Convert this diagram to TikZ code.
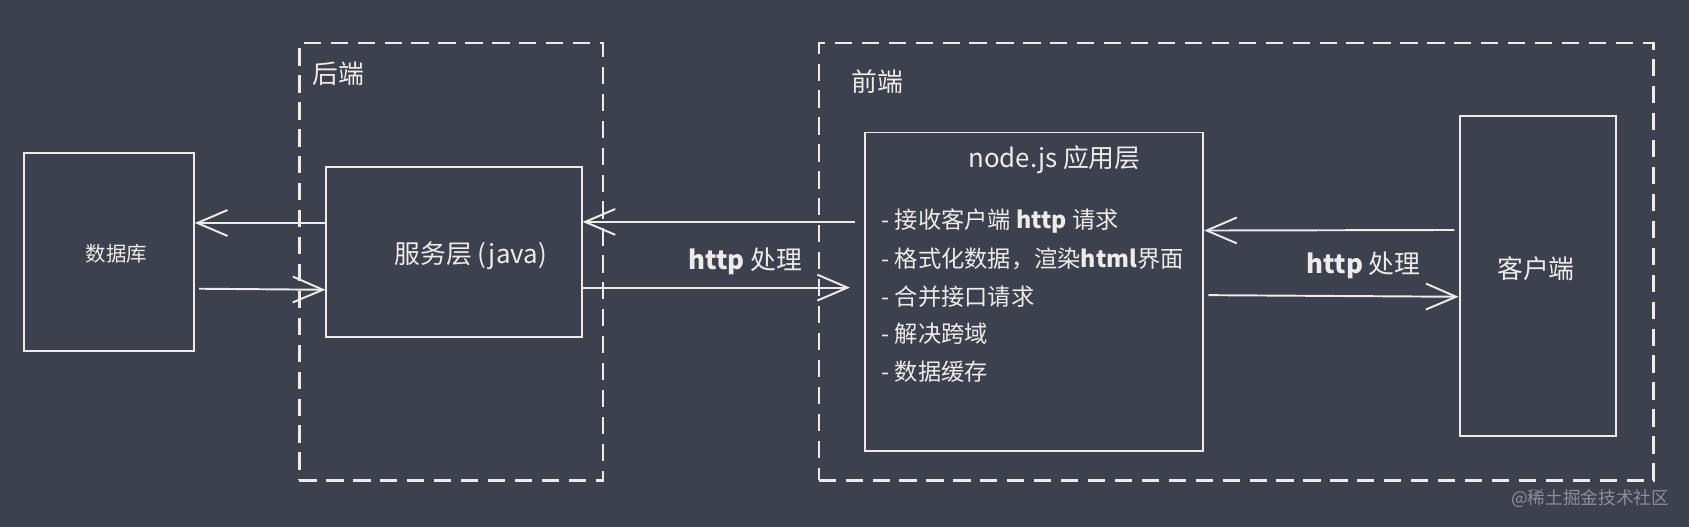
\documentclass[tikz,border=0pt]{standalone}
\usepackage{fontspec}
\newfontfamily\cjkfont{Noto Sans CJK SC}
\usetikzlibrary{arrows.meta}
\definecolor{bgcol}{HTML}{3D404D}
\definecolor{ink}{HTML}{ECECEC}
\definecolor{wmgray}{HTML}{8C8E98}
\tikzset{
  box/.style={draw=ink,line width=0.9pt,inner sep=0pt},
  zone/.style={draw=ink,line width=1pt,dash pattern=on 8pt off 4.5pt,inner sep=0pt},
  txt/.style={text=ink,inner sep=0pt,font=\cjkfont\fontsize{12pt}{14pt}\selectfont},
  smalltxt/.style={text=ink,inner sep=0pt,font=\cjkfont\fontsize{9.5pt}{11pt}\selectfont},
  itemtxt/.style={text=ink,inner sep=0pt,anchor=west,font=\cjkfont\fontsize{10.8pt}{13pt}\selectfont},
  arr/.style={draw=ink,line width=0.9pt,-{Straight Barb[length=14pt,width=12pt]}}
}

\begin{document}
\begin{tikzpicture}[x=0.5pt,y=-0.5pt]
  \fill[bgcol] (0,0) rectangle (1568,489);
  \useasboundingbox (0,0) rectangle (1568,489);

  % dashed zones
  \node[zone,minimum width=141pt,minimum height=203pt] (back) at (419,243) {};
  \node[zone,minimum width=387.5pt,minimum height=203pt] (front) at (1147.5,243) {};
  \node[txt,anchor=west] (backlbl) at (290,68) {后端};
  \node[txt,anchor=west] (frontlbl) at (790,76) {前端};

  % boxes
  \node[box,minimum width=79pt,minimum height=92pt] (db) at (101,234) {};
  \node[smalltxt] (dbtxt) at (108,236) {数据库};
  \node[box,minimum width=118.5pt,minimum height=79pt] (svc) at (421.5,234) {};
  \node[txt] (svctxt) at (437,237) {服务层 (java)};
  \node[box,minimum width=157pt,minimum height=148pt] (nodejs) at (960,271) {};
  \node[box,minimum width=72.5pt,minimum height=148.5pt] (client) at (1427.5,256.5) {};
  \node[txt] (clienttxt) at (1426,249) {客户端};

  % node.js box content
  \node[txt] (nodetitle) at (979,148) {node.js 应用层};
  \foreach \t [count=\i] in {接收客户端 \textbf{http} 请求,
      格式化数据，渲染\textbf{html}界面, 合并接口请求, 解决跨域, 数据缓存}
    \node[itemtxt] (item\i) at (818,170+35*\i) {- \t};

  % connectors
  \draw[arr] ([yshift=13.5pt]svc.west) -- ([yshift=13.5pt]db.east);
  \draw[arr,shorten <=2pt] ([yshift=-17pt]db.east) -- ([yshift=-17.5pt]svc.west);
  \draw[arr] ([xshift=-4pt,yshift=32.5pt]nodejs.west) -- ([yshift=14pt]svc.east);
  \draw[arr] ([yshift=-16.5pt]svc.east) -- ([xshift=-6.5pt,yshift=2pt]nodejs.west);
  \draw[arr] ([xshift=-2pt,yshift=21.5pt]client.west) -- ([yshift=28.5pt]nodejs.east);
  \draw[arr] ([xshift=2pt,yshift=-1.5pt]nodejs.east) -- ([yshift=-9.5pt]client.west);

  \node[txt] (http1) at (692,243) {\textbf{http} 处理};
  \node[txt] (http2) at (1266,246) {\textbf{http} 处理};

  \node[text=wmgray,inner sep=0pt,anchor=east,font=\cjkfont\fontsize{8.2pt}{10pt}\selectfont] (wm) at (1550,463) {@稀土掘金技术社区};
\end{tikzpicture}
\end{document}
